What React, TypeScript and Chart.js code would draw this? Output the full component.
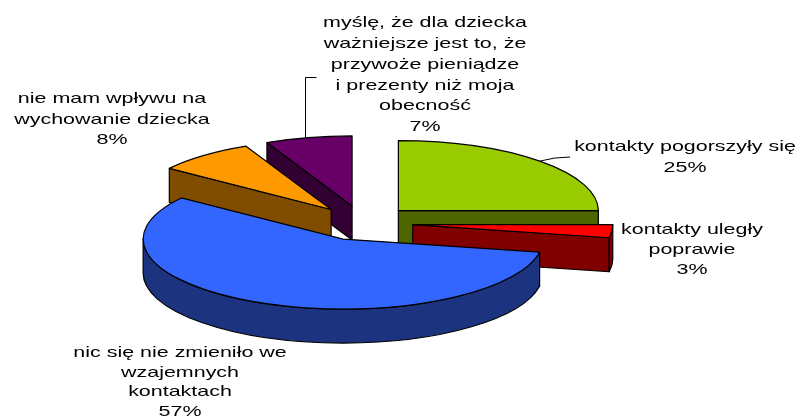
import React, { useEffect, useRef } from 'react';
import { Chart, registerables } from 'chart.js';

Chart.register(...registerables);

// ---- data ----
const categories: string[] = [
  'kontakty pogorszyły się',
  'kontakty uległy\npoprawie',
  'nic się nie zmieniło we\nwzajemnych\nkontaktach',
  'nie mam wpływu na\nwychowanie dziecka',
  'myślę, że dla dziecka\nważniejsze jest to, że\nprzywoże pieniądze\ni prezenty niż moja\nobecność',
];
const shares: number[] = [25, 3, 57, 8, 7];

// ---- styles ----
const topColors = ['#99CC00', '#FF0000', '#3366FF', '#FF9900', '#660066'];
const sideColors = ['#4D6600', '#800000', '#1C3480', '#804D00', '#330033'];
const labelLayout = [
  { x: 685, y: 147, lh: 21 },
  { x: 692, y: 230, lh: 20 },
  { x: 180, y: 353, lh: 19.5 },
  { x: 112, y: 99, lh: 20.5 },
  { x: 425, y: 23, lh: 20.8 },
];
const K = 0.35; // vertical squash of the tilted pie
const DEPTH = 34; // thickness in screen px
const EXPLODE = 50; // explosion distance
const TEXT_STRETCH = 1.43;
const FONT = '15px "Liberation Sans", Arial, sans-serif';

function geom(arc: any) {
  return arc.getProps(['x', 'y', 'startAngle', 'endAngle', 'outerRadius'], true);
}

const pie3d = {
  id: 'pie3d',
  beforeDatasetDraw(chart: any, args: any) {
    const ctx: CanvasRenderingContext2D = chart.ctx;
    const arcs = args.meta.data;
    const dpr = chart.currentDevicePixelRatio || 1;
    const mids = arcs.map((a: any) => {
      const p = geom(a);
      return (p.startAngle + p.endAngle) / 2;
    });
    const order = arcs.map((_: any, i: number) => i);
    order.sort((a: number, b: number) => Math.sin(mids[a]) - Math.sin(mids[b]));
    const dz = DEPTH / K;
    const stroke = () => {
      ctx.save();
      ctx.setTransform(dpr, 0, 0, dpr, 0, 0);
      ctx.lineWidth = 1.2;
      ctx.strokeStyle = '#000';
      ctx.lineJoin = 'round';
      ctx.stroke();
      ctx.restore();
    };
    for (const i of order) {
      const arc = arcs[i];
      const { x, y, startAngle: s, endAngle: e, outerRadius: r } = geom(arc);
      const h = mids[i];
      ctx.save();
      ctx.translate(0, y);
      ctx.scale(1, K);
      ctx.translate(0, -y);
      ctx.translate(Math.cos(h) * EXPLODE, Math.sin(h) * EXPLODE);
      ctx.fillStyle = sideColors[i];
      const face = (a: number) => {
        const ox = x + r * Math.cos(a);
        const oy = y + r * Math.sin(a);
        ctx.beginPath();
        ctx.moveTo(x, y);
        ctx.lineTo(ox, oy);
        ctx.lineTo(ox, oy + dz);
        ctx.lineTo(x, y + dz);
        ctx.closePath();
        ctx.fill();
        stroke();
      };
      if (Math.cos(s) < -1e-6) face(s);
      if (Math.cos(e) > 1e-6) face(e);
      const w1 = Math.max(s, 0);
      const w2 = Math.min(e, Math.PI);
      if (w2 > w1) {
        ctx.beginPath();
        ctx.arc(x, y, r, w1, w2);
        ctx.lineTo(x + r * Math.cos(w2), y + r * Math.sin(w2) + dz);
        ctx.arc(x, y + dz, r, w2, w1, true);
        ctx.closePath();
        ctx.fill();
        stroke();
      }
      arc.draw(ctx);
      ctx.beginPath();
      ctx.moveTo(x, y);
      ctx.arc(x, y, r, s, e);
      ctx.closePath();
      stroke();
      ctx.restore();
    }
    return false;
  },
  afterDraw(chart: any) {
    const ctx: CanvasRenderingContext2D = chart.ctx;
    const arcs = chart.getDatasetMeta(0).data;
    const total = shares.reduce((a, b) => a + b, 0);
    // leader lines start on the slice's outer rim
    const anchor = (i: number, da: number) => {
      const { x, y, startAngle: s, endAngle: e, outerRadius: r } = geom(arcs[i]);
      const h = (s + e) / 2;
      const a = h + da;
      return {
        x: x + EXPLODE * Math.cos(h) + r * Math.cos(a),
        y: y + K * (EXPLODE * Math.sin(h) + r * Math.sin(a)),
      };
    };
    ctx.save();
    ctx.strokeStyle = '#000';
    ctx.lineWidth = 1;
    const g = anchor(0, 0);
    ctx.beginPath();
    ctx.moveTo(g.x, g.y);
    ctx.quadraticCurveTo(g.x + 14, g.y - 4, 570, 157);
    ctx.stroke();
    const pu = anchor(4, -0.02);
    const px = Math.round(pu.x) + 0.5;
    ctx.beginPath();
    ctx.moveTo(px, pu.y);
    ctx.lineTo(px, 77.5);
    ctx.lineTo(px + 11, 77.5);
    ctx.stroke();
    // labels
    ctx.fillStyle = '#000';
    ctx.font = FONT;
    ctx.textAlign = 'center';
    ctx.textBaseline = 'middle';
    categories.forEach((c, i) => {
      const lines = c.split('\n');
      lines.push(Math.round((shares[i] / total) * 100) + '%');
      const L = labelLayout[i];
      lines.forEach((t, j) => {
        ctx.save();
        ctx.translate(L.x, L.y + j * L.lh);
        ctx.scale(TEXT_STRETCH, 1);
        ctx.fillText(t, 0, 0);
        ctx.restore();
      });
    });
    ctx.restore();
  },
};

export default function App() {
  const ref = useRef<HTMLCanvasElement>(null);
  useEffect(() => {
    if (!ref.current) return;
    const chart = new Chart(ref.current, {
      type: 'pie',
      data: {
        labels: categories,
        datasets: [
          {
            data: shares,
            backgroundColor: topColors,
            borderWidth: 0,
            radius: 200,
            clip: false,
          } as any,
        ],
      },
      options: {
        responsive: false,
        animation: false,
        events: [],
        layout: { padding: { left: 0, right: 73, top: 27, bottom: 0 } },
        plugins: { legend: { display: false }, tooltip: { enabled: false } },
      },
      plugins: [pie3d as any],
    });
    return () => chart.destroy();
  }, []);
  return (
    <div style={{ position: 'absolute', left: 0, top: 0, width: 799, height: 419, background: '#fff' }}>
      <canvas ref={ref} width={799} height={419} />
    </div>
  );
}
